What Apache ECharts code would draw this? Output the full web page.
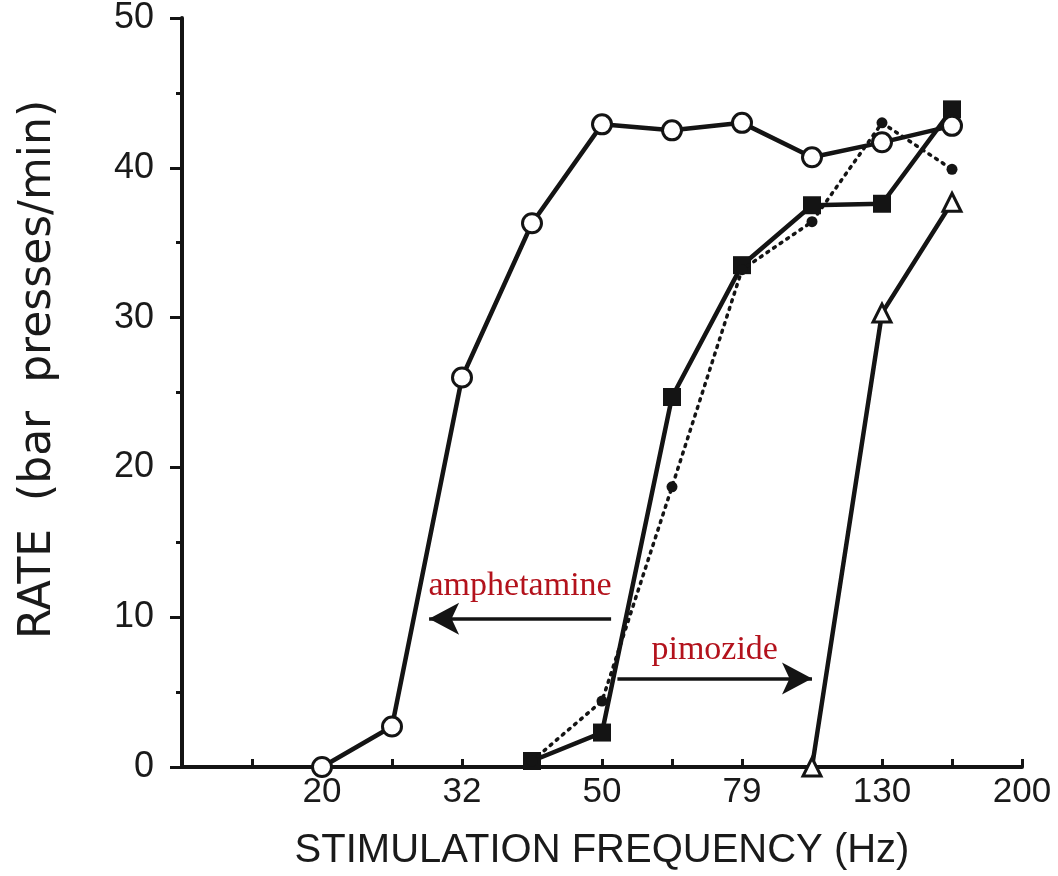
<!DOCTYPE html>
<html>
<head>
<meta charset="utf-8">
<script src="https://cdn.jsdelivr.net/npm/echarts@6/dist/echarts.min.js"></script>
<style>
  html, body { margin: 0; padding: 0; background: #ffffff; }
  #chart { width: 1058px; height: 876px; }
</style>
</head>
<body>
<div id="chart"></div>
<script>
// x positions are tenth-decade steps above 20 Hz (log frequency axis)
const xSteps = [0, 1, 2, 3, 4, 5, 6, 7, 8, 9];
const xTickSteps = [0, 2, 4, 6, 8, 10];
const xTickLabels = ['20', '32', '50', '79', '130', '200'];

// RATE (bar presses/min) per step
const openCircles   = [0.0, 2.7, 26.0, 36.3, 42.9, 42.5, 43.0, 40.7, 41.7, 42.8];
const filledSquares = [null, null, null, 0.4, 2.3, 24.7, 33.5, 37.5, 37.6, 43.9];
const dottedDots    = [null, null, null, 0.4, 4.4, 18.7, 33.2, 36.4, 43.0, 39.9];
const openTriangles = [null, null, null, null, null, null, null, 0.0, 30.3, 37.7];

// annotation arrows
const arrowLabels = ['amphetamine', 'pimozide'];
const arrowFrom   = [4.13, 4.22];
const arrowTo     = [1.53, 7.0];
const arrowRate   = [9.9, 5.9];

function pairs(vals) {
  const out = [];
  xSteps.forEach((s, i) => { if (vals[i] !== null) out.push([s, vals[i]]); });
  return out;
}

const INK = '#141414';
const RED = '#b3121c';

const chart = echarts.init(document.getElementById('chart'), null, { renderer: 'canvas' });

const arrowData = arrowLabels.map((lab, i) => {
  const leftward = arrowTo[i] < arrowFrom[i];
  const a = { coord: [Math.min(arrowFrom[i], arrowTo[i]), arrowRate[i]] };
  const b = { coord: [Math.max(arrowFrom[i], arrowTo[i]), arrowRate[i]] };
  return [
    Object.assign(a, {
      symbol: leftward ? 'arrow' : 'none',
      label: { formatter: lab, distance: leftward ? 16 : 12 }
    }),
    Object.assign(b, { symbol: leftward ? 'none' : 'arrow' })
  ];
});

chart.setOption({
  animation: false,
  backgroundColor: '#ffffff',
  grid: { left: 182, right: 36, top: 18, bottom: 108, containLabel: false },
  xAxis: {
    type: 'value',
    min: -2,
    max: 10,
    interval: 1,
    splitLine: { show: false },
    axisLine: { show: true, onZero: false, lineStyle: { color: INK, width: 4 } },
    axisTick: { show: true, inside: true, length: 8, lineStyle: { color: INK, width: 3 } },
    axisLabel: {
      showMinLabel: true,
      showMaxLabel: true,
      margin: 8,
      color: '#1a1a1a',
      fontSize: 35,
      fontFamily: 'Liberation Sans, Arial, sans-serif',
      formatter: function (v) {
        const k = xTickSteps.indexOf(Math.round(v));
        return (k >= 0 && Math.abs(v - Math.round(v)) < 1e-6) ? xTickLabels[k] : '';
      }
    },
    name: 'STIMULATION FREQUENCY (Hz)',
    nameLocation: 'middle',
    nameGap: 64,
    nameTextStyle: { color: '#1a1a1a', fontSize: 40, fontFamily: 'Liberation Sans, Arial, sans-serif' }
  },
  yAxis: {
    type: 'value',
    min: 0,
    max: 50,
    interval: 10,
    splitLine: { show: false },
    axisLine: { show: true, onZero: false, lineStyle: { color: INK, width: 4 } },
    axisTick: { show: true, inside: false, length: 12, lineStyle: { color: INK, width: 3 } },
    minorTick: { show: true, splitNumber: 2, length: 6, lineStyle: { color: INK, width: 3 } },
    minorSplitLine: { show: false },
    axisLabel: {
      margin: 28,
      color: '#1a1a1a',
      fontSize: 36,
      fontFamily: 'Liberation Sans, Arial, sans-serif'
    },
    name: 'RATE  (bar  presses/min)',
    nameLocation: 'middle',
    nameRotate: 90,
    nameGap: 121,
    nameTextStyle: {
      color: '#1a1a1a',
      fontSize: 44,
      fontFamily: 'DejaVu Sans, sans-serif',
      padding: [0, 0, 0, 46]
    }
  },
  series: [
    {
      name: 'squares',
      type: 'line',
      data: pairs(filledSquares),
      symbol: 'rect',
      symbolSize: 18,
      lineStyle: { color: INK, width: 4.5 },
      itemStyle: { color: INK },
      z: 2
    },
    {
      name: 'dotted',
      type: 'line',
      data: pairs(dottedDots),
      symbol: 'circle',
      symbolSize: 11,
      lineStyle: { color: INK, width: 3.5, type: [2, 6], cap: 'round' },
      itemStyle: { color: INK },
      z: 3
    },
    {
      name: 'triangles',
      type: 'line',
      data: pairs(openTriangles),
      symbol: 'triangle',
      symbolSize: 18,
      lineStyle: { color: INK, width: 4.5 },
      itemStyle: { color: '#ffffff', borderColor: INK, borderWidth: 3 },
      z: 4,
      markLine: {
        silent: true,
        symbolSize: [24, 30],
        lineStyle: { color: INK, width: 3.5, type: 'solid' },
        label: {
          show: true,
          position: 'middle',
          color: RED,
          fontSize: 34,
          fontFamily: 'Liberation Serif, Times New Roman, serif'
        },
        emphasis: { disabled: true },
        data: arrowData
      }
    },
    {
      name: 'circles',
      type: 'line',
      data: pairs(openCircles),
      symbol: 'circle',
      symbolSize: 19,
      lineStyle: { color: INK, width: 4.5 },
      itemStyle: { color: '#ffffff', borderColor: INK, borderWidth: 3 },
      z: 5
    }
  ]
});
</script>
</body>
</html>
